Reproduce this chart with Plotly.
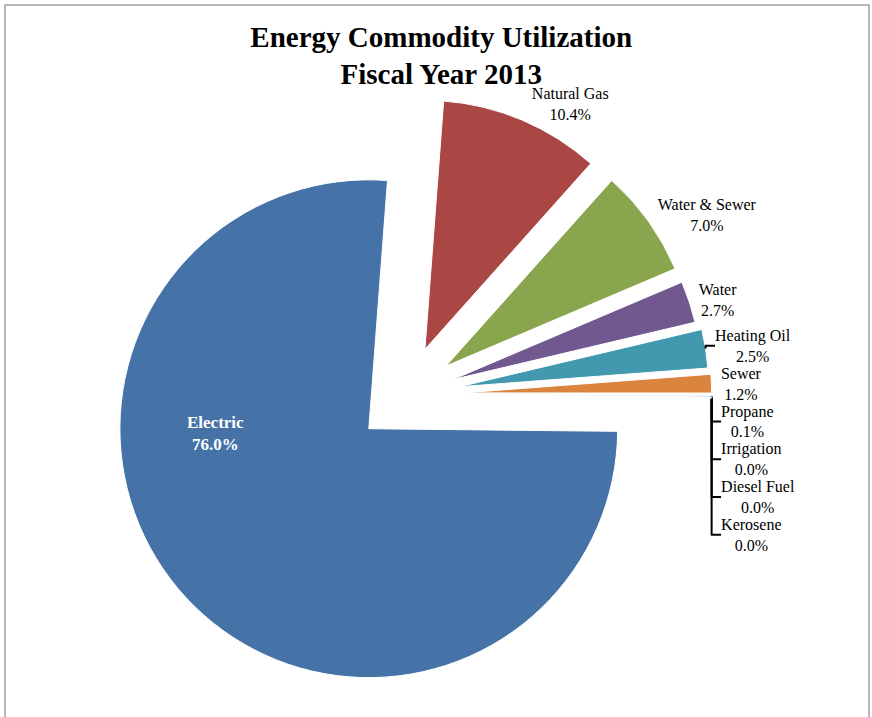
import plotly.graph_objects as go

labels = ["Electric", "Natural Gas", "Water & Sewer", "Water", "Heating Oil",
          "Sewer", "Propane", "Irrigation", "Diesel Fuel", "Kerosene"]
values = [76.0, 10.4, 7.0, 2.7, 2.5, 1.2, 0.1, 0.03, 0.02, 0.01]
colors = ["#4572A7", "#AA4643", "#89A54E", "#71588F", "#4198AF",
          "#DB843D", "#93A9CF", "#D19392", "#B9CD96", "#A99BBD"]
pulls = [0.2, 0.2, 0.2, 0.2, 0.22, 0.23, 0.23, 0.23, 0.23, 0.23]

total = sum(values)
templates = [""] + ["%{label}<br>%{percent:.1%}"] * (len(labels) - 1)
positions = ["none"] + ["outside"] * (len(labels) - 1)

fig = go.Figure(go.Pie(
    labels=labels,
    values=values,
    sort=False,
    direction="clockwise",
    rotation=90.6,
    pull=pulls,
    marker=dict(colors=colors, line=dict(color="white", width=1)),
    texttemplate=templates,
    textposition=positions,
    textfont=dict(family="Liberation Serif", size=16, color="black"),
    showlegend=False,
    automargin=False,
    domain=dict(x=[0.112, 0.818], y=[0.022, 0.876]),
))

fig.update_layout(
    width=872, height=717,
    margin=dict(l=0, r=0, t=0, b=0),
    paper_bgcolor="white",
    title=dict(
        text="<b>Energy Commodity Utilization<br>Fiscal Year 2013</b>",
        x=0.506, xanchor="center", y=0.935, yanchor="top",
        font=dict(family="Liberation Serif", size=29, color="black"),
    ),
    annotations=[dict(
        text="<b>%s<br>%.1f%%</b>" % (labels[0], values[0] / total * 100),
        xref="paper", yref="paper", x=215/872, y=1 - 433/717,
        xanchor="center", yanchor="middle", showarrow=False,
        font=dict(family="Liberation Serif", size=17, color="white"),
    )],
    shapes=[dict(type="rect", xref="paper", yref="paper",
                 x0=5/872, x1=869/872, y0=-0.05, y1=1 - 5/717,
                 line=dict(color="#A0A0A0", width=1.5), fillcolor="rgba(0,0,0,0)")],
)

fig.write_html("out.html")
